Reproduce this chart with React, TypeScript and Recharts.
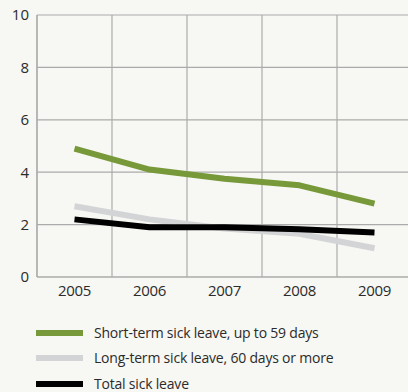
import React from 'react';
import { LineChart, Line, XAxis, YAxis, CartesianGrid } from 'recharts';

const years = ['2005', '2006', '2007', '2008', '2009'];
const shortTerm = [4.9, 4.1, 3.75, 3.5, 2.8];
const longTerm = [2.7, 2.2, 1.85, 1.65, 1.1];
const total = [2.2, 1.9, 1.9, 1.82, 1.7];
const yTicks = [0, 2, 4, 6, 8, 10];

const series = [
  { key: 'short', name: 'Short-term sick leave, up to 59 days', color: '#77993a', values: shortTerm },
  { key: 'long', name: 'Long-term sick leave, 60 days or more', color: '#d3d4d6', values: longTerm },
  { key: 'total', name: 'Total sick leave', color: '#000000', values: total },
];

const data = years.map((y, i) => {
  const row: Record<string, number | string> = { year: y, x: i + 0.5 };
  series.forEach((s) => {
    row[s.key] = s.values[i];
  });
  return row;
});

const labelTicks = years.map((_, i) => i + 0.5);
const gridTicks = [0, ...years.map((_, i) => i + 1)];

const FONT = '"Open Sans", sans-serif';
const GRID = '#ababab';

export default function App() {
  return (
    <div
      style={{
        position: 'absolute',
        left: 0,
        top: 0,
        width: 408,
        height: 392,
        overflow: 'hidden',
        background: '#f7f7f3',
        fontFamily: FONT,
      }}
    >
      <LineChart
        width={430}
        height={392}
        data={data}
        margin={{ top: 15, right: 18, bottom: 85, left: 0 }}
      >
        <XAxis xAxisId="grid" type="number" dataKey="x" domain={[0, 5]} ticks={gridTicks} hide />
        <CartesianGrid xAxisId="grid" stroke={GRID} strokeWidth={1.2} horizontal vertical />
        <XAxis
          type="number"
          dataKey="x"
          domain={[0, 5]}
          ticks={labelTicks}
          tickFormatter={(v: number) => years[Math.round(v - 0.5)]}
          tickLine={false}
          axisLine={{ stroke: GRID, strokeWidth: 1.2 }}
          height={30}
          tick={{ fill: '#2b2b2b', fontSize: 15, fontFamily: FONT, letterSpacing: -0.3 }}
        />
        <YAxis
          domain={[0, 10]}
          ticks={yTicks}
          width={37}
          tickLine={false}
          axisLine={{ stroke: GRID, strokeWidth: 1.2 }}
          tick={{ fill: '#2b2b2b', fontSize: 15, fontFamily: FONT }}
        />
        {series.map((s) => (
          <Line
            key={s.key}
            dataKey={s.key}
            name={s.name}
            stroke={s.color}
            strokeWidth={6}
            dot={false}
            activeDot={false}
            isAnimationActive={false}
            strokeLinejoin="round"
          />
        ))}
      </LineChart>
      <div style={{ position: 'absolute', left: 36, top: 320 }}>
        {series.map((s, i) => (
          <div
            key={s.key}
            style={{ display: 'flex', alignItems: 'center', height: 25, marginTop: i === 2 ? 1 : 0 }}
          >
            <div style={{ width: 47, height: 6, background: s.color, marginRight: 11 }} />
            <span style={{ fontSize: 14, letterSpacing: -0.2, color: '#2b2b2b', fontFamily: FONT }}>{s.name}</span>
          </div>
        ))}
      </div>
    </div>
  );
}
